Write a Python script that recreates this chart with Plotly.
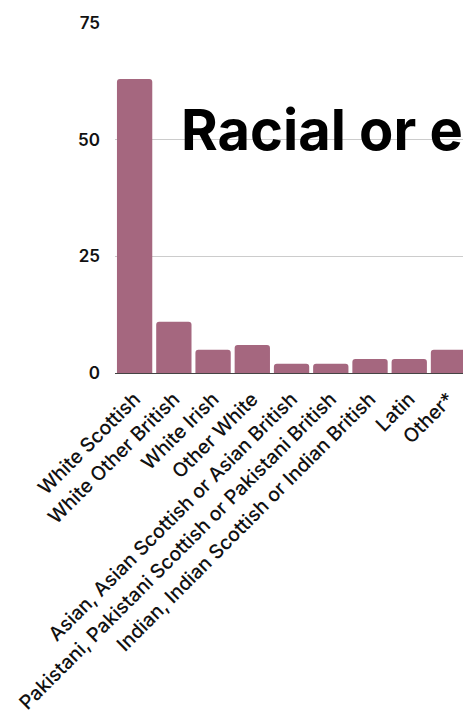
import plotly.graph_objects as go

# Survey responses by racial or ethnic background (percent)
categories = [
    "White Scottish",
    "White Other British",
    "White Irish",
    "Other White",
    "Asian, Asian Scottish or Asian British",
    "Pakistani, Pakistani Scottish or Pakistani British",
    "Indian, Indian Scottish or Indian British",
    "Latin",
    "Other*",
]
values = [63, 11, 5, 6, 2, 2, 3, 3, 5]
y_ticks = [0, 25, 50, 75]

BAR_COLOR = "#a5677f"
FONT = "Inter"

fig = go.Figure(
    go.Bar(
        x=categories,
        y=values,
        marker=dict(color=BAR_COLOR, cornerradius=3, line=dict(width=0)),
        hoverinfo="x+y",
    )
)

fig.add_annotation(
    text="Racial or ethnic background",
    xref="paper",
    yref="y",
    x=0.183,
    y=52,
    xanchor="left",
    yanchor="middle",
    showarrow=False,
    font=dict(family=FONT, size=56, color="#000000", weight=700),
)

fig.update_layout(
    width=463,
    height=720,
    margin=dict(l=115, r=0, t=23, b=347),
    paper_bgcolor="white",
    plot_bgcolor="white",
    bargap=0.1,
    showlegend=False,
    font=dict(family=FONT, size=17, color="#111111"),
)

fig.update_xaxes(
    type="category",
    range=[-0.5, 8.37],
    tickangle=-45,
    automargin=False,
    showline=True,
    linecolor="#444444",
    linewidth=1,
    showgrid=False,
    ticks="",
    ticklabelstandoff=6,
    tickfont=dict(family=FONT, size=19.5, color="#111111", weight=500),
)

fig.update_yaxes(
    range=[0, 75],
    tickvals=y_ticks,
    ticktext=[str(v) for v in y_ticks],
    automargin=False,
    showgrid=True,
    gridcolor="#cccccc",
    gridwidth=1,
    zeroline=False,
    showline=False,
    ticks="",
    ticklabelstandoff=14,
    tickfont=dict(family=FONT, size=17, color="#111111", weight=600),
)

fig.write_html("out.html")
